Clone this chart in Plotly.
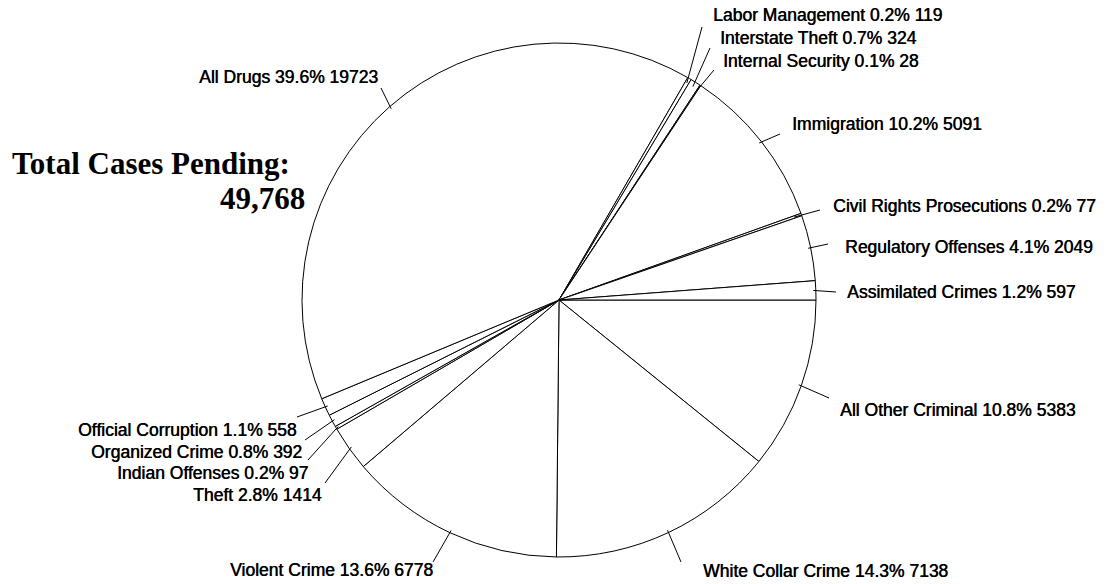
import plotly.graph_objects as go
import math

# ---- data ----
categories = ["All Other Criminal", "White Collar Crime", "Violent Crime", "Theft",
              "Indian Offenses", "Organized Crime", "Official Corruption", "All Drugs",
              "Labor Management", "Interstate Theft", "Internal Security", "Immigration",
              "Civil Rights Prosecutions", "Regulatory Offenses", "Assimilated Crimes"]
cases = [5383, 7138, 6778, 1414, 97, 392, 558, 19723, 119, 324, 28, 5091, 77, 2049, 597]
title_text = "Total Cases Pending:"
total_text = "49,768"

# ---- layout (pixels) ----
W, H = 1106, 584
CX, CY, R = 559, 300, 257

# side, text x, text y (center), leader end x, leader end y, leader inner radius factor
label_layout = {
    "All Other Criminal":        ("left", 840, 410, 829, 398, 0.99),
    "White Collar Crime":        ("left", 703, 571, 681, 562, 0.99),
    "Violent Crime":             ("right", 433, 570, 433, 562, 0.99),
    "Theft":                     ("right", 322, 495, 325, 483, 0.99),
    "Indian Offenses":           ("right", 308, 473, 308, 460, 0.99),
    "Organized Crime":           ("right", 302, 452, 305, 440, 0.99),
    "Official Corruption":       ("right", 297, 430, 297, 417, 0.99),
    "All Drugs":                 ("right", 378, 77, 381, 88, 0.99),
    "Labor Management":          ("left", 713, 15, 702, 27, 0.98),
    "Interstate Theft":          ("left", 720, 38, 710, 48, 0.98),
    "Internal Security":         ("left", 723, 61, 714, 70, 0.98),
    "Immigration":               ("left", 792, 124, 780, 134, 0.99),
    "Civil Rights Prosecutions": ("left", 833, 206, 820, 210, 0.97),
    "Regulatory Offenses":       ("left", 845, 247, 828, 244, 0.99),
    "Assimilated Crimes":        ("left", 847, 292, 836, 292, 0.99),
}

def px(x):
    return x / W

def py(y):
    return 1 - y / H

total = sum(cases)

fig = go.Figure(go.Pie(
    labels=categories,
    values=cases,
    sort=False,
    direction="clockwise",
    rotation=90,
    textinfo="none",
    hoverinfo="label+value+percent",
    marker=dict(colors=["white"] * len(cases), line=dict(color="black", width=1)),
    domain=dict(x=[px(CX - R), px(CX + R)], y=[py(CY + R), py(CY - R)]),
    showlegend=False,
))

shapes = []
annotations = []
cum = 0
for cat, v in zip(categories, cases):
    mid = 2 * math.pi * (cum + v / 2) / total
    cum += v
    side, tx, ty, ex, ey, rin = label_layout[cat]
    sx = CX + R * rin * math.cos(mid)
    sy = CY + R * rin * math.sin(mid)
    shapes.append(dict(type="line", xref="paper", yref="paper",
                       x0=px(sx), y0=py(sy), x1=px(ex), y1=py(ey),
                       line=dict(color="black", width=1)))
    label = f"{cat} {100 * v / total:.1f}% {v}"
    annotations.append(dict(
        text=label, xref="paper", yref="paper",
        x=px(tx - 2 if side == "left" else tx + 2), y=py(ty),
        xanchor=side, yanchor="middle", showarrow=False,
        font=dict(family="Liberation Sans, Arial, sans-serif", size=17.5, color="black",
                  shadow="0.5px 0px 0px black"),
    ))

annotations.append(dict(
    text=f"<b>{title_text}</b>", xref="paper", yref="paper",
    x=px(10), y=py(163), xanchor="left", yanchor="middle", showarrow=False,
    font=dict(family="Liberation Serif, Times New Roman, serif", size=31, color="black"),
))
annotations.append(dict(
    text=f"<b>{total_text}</b>", xref="paper", yref="paper",
    x=px(307), y=py(199), xanchor="right", yanchor="middle", showarrow=False,
    font=dict(family="Liberation Serif, Times New Roman, serif", size=31, color="black"),
))

fig.update_layout(
    width=W, height=H,
    margin=dict(l=0, r=0, t=0, b=0),
    paper_bgcolor="white", plot_bgcolor="white",
    shapes=shapes, annotations=annotations,
)

fig.write_html("out.html")
